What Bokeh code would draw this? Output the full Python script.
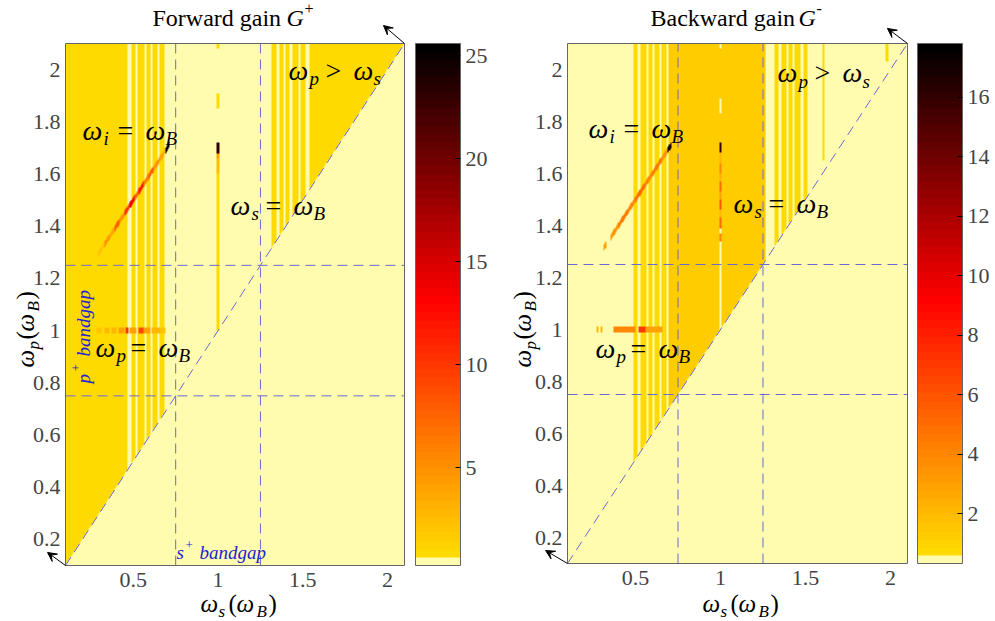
import math
import numpy as np
from bokeh.plotting import figure
from bokeh.models import (Range1d, LinearColorMapper, ColorBar, FixedTicker, LinearAxis,
                          CustomJSTickFormatter, Label, Arrow, VeeHead)
from bokeh.layouts import row
from bokeh.embed import file_html
from bokeh.resources import INLINE

SERIF = "Liberation Serif"

# ---------------- data ----------------
AX_LO, AX_HI = 0.1, 2.1
X_TICKS = [0.5, 1.0, 1.5, 2.0]
Y_TICKS = [0.2, 0.4, 0.6, 0.8, 1.0, 1.2, 1.4, 1.6, 1.8, 2.0]
BANDGAP_EDGES = [0.75, 1.25]

FWD_CBAR = [0.25, 25.6]
FWD_CBAR_TICKS = [5, 10, 15, 20, 25]
BWD_CBAR = [0.33, 17.8]
BWD_CBAR_TICKS = [2, 4, 6, 8, 10, 12, 14, 16]

PALE_GAIN = 0.26
# gold columns above the diagonal (w_p > w_s): [x0, x1]
FWD_SOLID = [[0.10, 0.464], [1.536, 2.10]]
FWD_SOLID_GAIN = 1.0
STRIPES = [[0.488, 0.513], [0.527, 0.562], [0.578, 0.601], [0.613, 0.641], [0.655, 0.684],
           [1.316, 1.345], [1.359, 1.387], [1.399, 1.422], [1.438, 1.473], [1.487, 1.512]]
FWD_STRIPE_GAIN = 1.0
BWD_STRIPE_GAIN = 0.8
BWD_SOLID = [[0.695, 1.265]]
BWD_SOLID_GAIN = 1.3
# extra short columns in backward map: [x0, x1, y0, y1]
BWD_EXTRA = [[1.600, 1.614, 1.65, 2.10], [1.975, 1.988, 2.03, 2.10]]
BWD_EXTRA_GAIN = 0.8

# signal resonance w_s = w_B (x = 1): [y0, y1, gain]
SIG_X = 1.0
FWD_SIG = [[1.00, 1.60, 1.0], [1.60, 1.66, 2.5], [1.66, 1.68, 4.0], [1.68, 1.72, 23.0],
           [1.85, 1.91, 1.0], [2.08, 2.10, 1.0]]
BWD_SIG = [[1.00, 1.34, 0.3], [1.34, 1.37, 4.0], [1.37, 1.39, 0.3], [1.39, 1.43, 5.0],
           [1.43, 1.46, 2.0], [1.46, 1.50, 6.0], [1.50, 1.53, 3.0], [1.53, 1.57, 5.0],
           [1.57, 1.60, 2.5], [1.60, 1.64, 4.0], [1.64, 1.68, 2.0], [1.68, 1.72, 16.0],
           [1.83, 1.89, 0.3], [2.08, 2.10, 0.3]]
# idler resonance w_i = w_p - w_s = w_B : [x0, x1, gain]
IDL_OFFSET = 1.0
FWD_IDL = [[0.29, 0.33, 2.0], [0.33, 0.36, 5.0], [0.36, 0.39, 3.5], [0.39, 0.42, 8.0],
           [0.42, 0.45, 5.0], [0.45, 0.48, 10.0], [0.48, 0.51, 14.0], [0.51, 0.53, 7.0],
           [0.53, 0.56, 12.0], [0.56, 0.59, 6.0], [0.59, 0.62, 8.0], [0.62, 0.65, 5.0],
           [0.65, 0.68, 4.0], [0.68, 0.69, 3.0], [0.69, 0.712, 25.0]]
BWD_IDL = [[0.31, 0.33, 3.0], [0.35, 0.40, 3.5], [0.40, 0.45, 4.5], [0.45, 0.50, 4.0],
           [0.50, 0.55, 5.0], [0.55, 0.60, 4.0], [0.60, 0.65, 4.5], [0.65, 0.685, 3.5],
           [0.685, 0.712, 17.0]]
# pump resonance w_p = w_B (y = 1): [x0, x1, gain]
PMP_Y = 1.0
FWD_PMP = [[0.28, 0.31, 2.0], [0.33, 0.36, 3.0], [0.37, 0.40, 3.0], [0.41, 0.45, 4.0],
           [0.455, 0.475, 10.0], [0.48, 0.52, 4.0], [0.53, 0.56, 9.0], [0.56, 0.60, 4.0],
           [0.61, 0.66, 3.0], [0.66, 0.69, 2.0]]
BWD_PMP = [[0.27, 0.28, 2.0], [0.295, 0.305, 2.0], [0.37, 0.50, 4.0], [0.52, 0.56, 7.0],
           [0.56, 0.66, 3.0]]

# ---------------- palette (flipped "hot", pale first entry) ----------------
def make_palette(n=64):
    pal = ["#fffcaf"]
    for i in range(1, n):
        t = (i - 1) / (n - 2)
        if t < 0.5:
            r, g = 255, int(round(218 * (1 - t / 0.5)))
        else:
            r, g = int(round(255 * (1 - (t - 0.5) / 0.5))), 0
        pal.append("#%02x%02x%02x" % (r, g, 0))
    return pal

PALETTE = make_palette()

# ---------------- rasterise the gain map ----------------
N = 600
cs = AX_LO + (np.arange(N) + 0.5) * (AX_HI - AX_LO) / N
X, Y = np.meshgrid(cs, cs)
ABOVE = Y > X
HW = 0.0085


def build(solids, solid_gain, stripe_gain, extra, sig, idl, pmp):
    G = np.full((N, N), PALE_GAIN)
    for a, b in solids:
        G[(X >= a) & (X < b) & ABOVE] = solid_gain
    for a, b in STRIPES:
        G[(X >= a) & (X < b) & ABOVE] = stripe_gain
    for a, b, y0, y1 in extra:
        G[(X >= a) & (X < b) & (Y >= y0) & (Y < y1)] = BWD_EXTRA_GAIN
    for y0, y1, g in sig:
        G[(np.abs(X - SIG_X) < HW * 0.8) & (Y >= y0) & (Y < y1)] = g
    for x0, x1, g in idl:
        G[(np.abs(Y - X - IDL_OFFSET) < HW * 1.2) & (X >= x0) & (X < x1)] = g
    for x0, x1, g in pmp:
        G[(np.abs(Y - PMP_Y) < HW) & (X >= x0) & (X < x1)] = g
    return G


G_FWD = build(FWD_SOLID, FWD_SOLID_GAIN, FWD_STRIPE_GAIN, [], FWD_SIG, FWD_IDL, FWD_PMP)
G_BWD = build(BWD_SOLID, BWD_SOLID_GAIN, BWD_STRIPE_GAIN, BWD_EXTRA, BWD_SIG, BWD_IDL, BWD_PMP)


# ---------------- helpers ----------------
def mlabel(p, x, y, parts, size, angle=0.0, xo=0.0, yo=0.0, color="black"):
    ca, sa = math.cos(angle), math.sin(angle)
    for text, d, kind in parts:
        small = kind in ("sub", "sup")
        fs = round(size * 0.68) if small else size
        down = 0.3 * size if kind == "sub" else (-0.38 * size if kind == "sup" else 0.0)
        ox = xo + d * ca + down * sa
        oy = yo + d * sa - down * ca
        italic = text.isalpha() and kind != "r"
        p.add_layout(Label(x=x, y=y, x_offset=ox, y_offset=oy, text=text, angle=angle,
                           text_font=SERIF,
                           text_font_style="italic" if italic else "normal",
                           text_font_size=f"{fs}px", text_color=color,
                           text_align="left", text_baseline="middle"))


def eq_parts(a):
    return [("ω", 0, "n"), (a, 21, "sub"), ("=", 35, "n"), ("ω", 63, "n"), ("B", 83, "sub")]


GT_PARTS = [("ω", 0, "n"), ("p", 21, "sub"), (">", 37, "n"), ("ω", 65, "n"), ("s", 85, "sub")]


def axis_parts(a):
    return [("ω", 0, "n"), (a, 18, "sub"), ("(", 28, "n"), ("ω", 36, "n"), ("B", 56, "sub"), (")", 68, "n")]


BLUE = "#2323d2"
DASH = "#6a6ad2"
CANVAS_H = 620


def make_fig(G, cbar, cticks, width, frame_l, frame_r, frame_t, frame_b, cb_x):
    # whole canvas is the plotting frame; the map occupies [frame_l, frame_r] x [frame_t, frame_b]
    kx = (frame_r - frame_l) / (AX_HI - AX_LO)
    ky = (frame_b - frame_t) / (AX_HI - AX_LO)
    xr = Range1d(AX_LO - frame_l / kx, AX_HI + (width - frame_r) / kx)
    yr = Range1d(AX_LO - (CANVAS_H - frame_b) / ky, AX_HI + frame_t / ky)
    p = figure(width=width, height=CANVAS_H, output_backend="svg", toolbar_location=None,
               x_range=xr, y_range=yr, x_axis_location=None, y_axis_location=None,
               min_border=0, title=None)
    p.grid.visible = False
    p.outline_line_color = None
    p.background_fill_color = "white"
    p.border_fill_color = "white"
    mapper = LinearColorMapper(palette=PALETTE, low=cbar[0], high=cbar[1])
    p.image(image=[G], x=AX_LO, y=AX_LO, dw=AX_HI - AX_LO, dh=AX_HI - AX_LO,
            color_mapper=mapper)
    # band-gap edges and diagonal
    p.segment(x0=BANDGAP_EDGES, x1=BANDGAP_EDGES, y0=[AX_LO] * 2, y1=[AX_HI] * 2,
              line_color=DASH, line_dash="10 6", line_width=1)
    p.segment(x0=[AX_LO] * 2, x1=[AX_HI] * 2, y0=BANDGAP_EDGES, y1=BANDGAP_EDGES,
              line_color=DASH, line_dash="10 6", line_width=1)
    p.line([AX_LO, AX_HI], [AX_LO, AX_HI], line_color=DASH, line_dash="10 6", line_width=1)
    # axes box
    p.quad(left=AX_LO, right=AX_HI, bottom=AX_LO, top=AX_HI, fill_color=None,
           line_color="#666666", line_width=1)

    fmt = CustomJSTickFormatter(code="return (Math.round(tick*10)/10).toString();")
    xa = LinearAxis(fixed_location=AX_LO)
    ya = LinearAxis(fixed_location=AX_LO)
    p.add_layout(xa, "below")
    p.add_layout(ya, "left")
    for ax, ticks, so in ((xa, X_TICKS, 7), (ya, Y_TICKS, 5)):
        ax.ticker = FixedTicker(ticks=ticks)
        ax.formatter = fmt
        ax.major_label_text_font = SERIF
        ax.major_label_text_font_size = "22px"
        ax.major_label_standoff = so
        ax.major_tick_line_color = None
        ax.major_tick_out = 0
        ax.major_tick_in = 0
        ax.minor_tick_line_color = None
        ax.minor_tick_out = 0
        ax.axis_line_color = None

    cb = ColorBar(color_mapper=mapper, ticker=FixedTicker(ticks=cticks), width=45,
                  height=frame_b - frame_t, padding=0, margin=0,
                  location=(cb_x, CANVAS_H - frame_b), label_standoff=5,
                  major_label_text_font=SERIF, major_label_text_font_size="22px",
                  major_tick_in=5, major_tick_out=0, major_tick_line_color="black",
                  bar_line_color="#666666", background_fill_color=None)
    p.add_layout(cb, "center")
    return p


# ---------------- forward ----------------
p1 = make_fig(G_FWD, FWD_CBAR, FWD_CBAR_TICKS, 497, 65, 404, 43, 565, 415)
mlabel(p1, 1.386, AX_HI, [("Forward gain", -131, "r"), ("G", 3, "n"), ("+", 21, "sup")], 24, yo=26)
mlabel(p1, 1.416, 1.997, GT_PARTS, 28)
mlabel(p1, 0.200, 1.767, eq_parts("i"), 28)
mlabel(p1, 1.073, 1.479, eq_parts("s"), 28)
mlabel(p1, 0.277, 0.935, eq_parts("p"), 28)
mlabel(p1, 0.755, 0.150, [("s", 0, "n"), ("+", 9, "sup"), ("bandgap", 23, "n")], 19, color=BLUE)
mlabel(p1, 0.206, 0.797, [("p", 0, "n"), ("+", 12, "sup"), ("bandgap", 27, "n")], 19,
       angle=math.pi / 2, color=BLUE)
mlabel(p1, 0.896, AX_LO, axis_parts("s"), 25, yo=-38)
mlabel(p1, AX_LO, 0.859, axis_parts("p"), 25, angle=math.pi / 2, xo=-40)
p1.add_layout(Arrow(end=VeeHead(size=9, line_width=1), x_start=AX_HI, y_start=AX_HI,
                    x_end=1.976, y_end=2.169, line_width=1))
p1.add_layout(Arrow(end=VeeHead(size=9, line_width=1), x_start=AX_LO, y_start=AX_LO,
                    x_end=-0.006, y_end=0.150, line_width=1))

# ---------------- backward ----------------
p2 = make_fig(G_BWD, BWD_CBAR, BWD_CBAR_TICKS, 493, 70, 410, 43, 563, 420)
mlabel(p2, 1.441, AX_HI, [("Backward gain", -145, "r"), ("G", 3, "n"), ("-", 21, "sup")], 24, yo=26)
mlabel(p2, 1.335, 1.988, GT_PARTS, 28)
mlabel(p2, 0.224, 1.773, eq_parts("i"), 28)
mlabel(p2, 1.076, 1.485, eq_parts("s"), 28)
mlabel(p2, 0.265, 0.927, eq_parts("p"), 28)
mlabel(p2, 0.894, AX_LO, axis_parts("s"), 25, yo=-40)
mlabel(p2, AX_LO, 0.854, axis_parts("p"), 25, angle=math.pi / 2, xo=-45)
p2.add_layout(Arrow(end=VeeHead(size=9, line_width=1), x_start=AX_HI, y_start=AX_HI,
                    x_end=1.982, y_end=2.158, line_width=1))
p2.add_layout(Arrow(end=VeeHead(size=9, line_width=1), x_start=AX_LO, y_start=AX_LO,
                    x_end=-0.029, y_end=0.150, line_width=1))

layout = row(p1, p2)
open("out.html", "w").write(file_html(layout, INLINE))
